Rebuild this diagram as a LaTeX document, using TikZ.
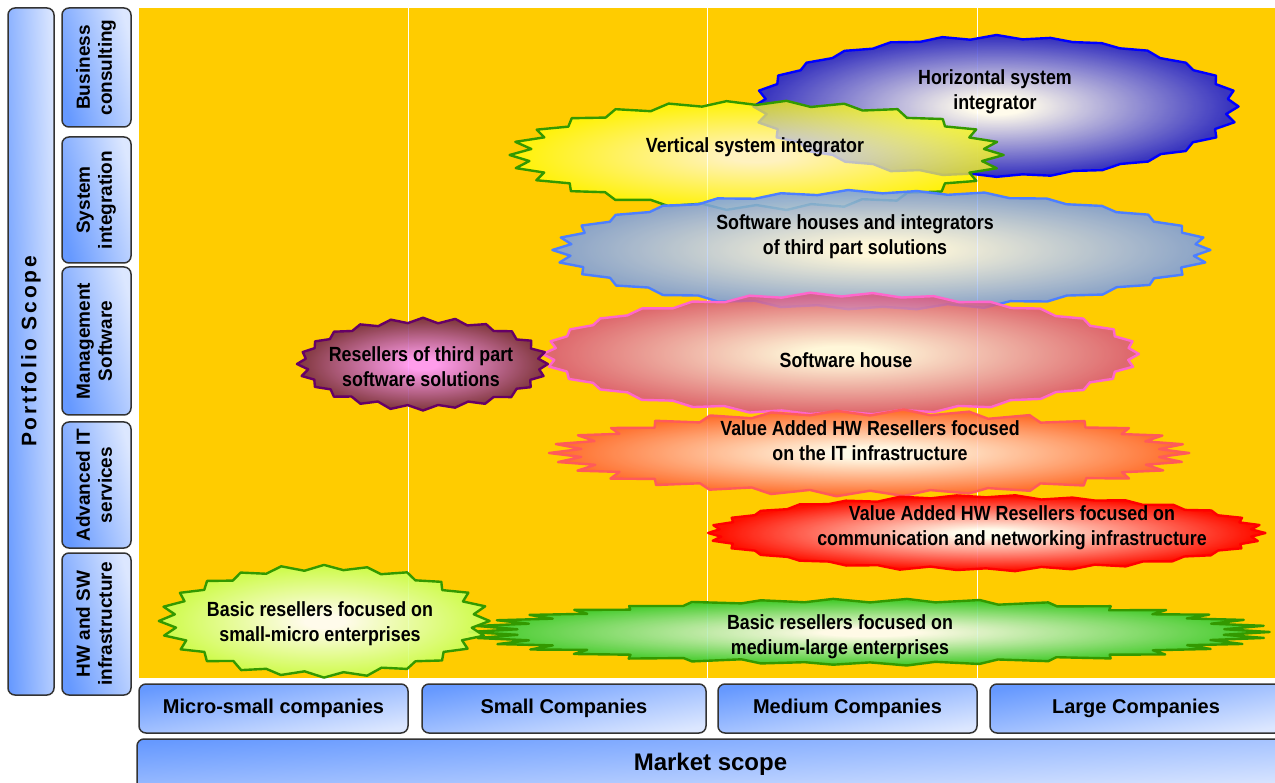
\documentclass[tikz,border=0pt]{standalone}
\usepackage{fontspec}
\setmainfont{Liberation Sans}
\newfontfamily\burstfont[FakeStretch=0.87]{Liberation Sans}
\newfontfamily\scopefont[LetterSpace=13]{Liberation Sans}
\definecolor{bgyellow}{HTML}{FFCC00}
\definecolor{boxblue}{HTML}{6699FF}
\definecolor{boxlight}{HTML}{DCE7FF}
\colorlet{burstcol}{blue}
\colorlet{burstin}{white}
\pgfdeclareradialshading[burstcol,burstin]{burstshade}{\pgfpoint{0bp}{0bp}}{color(0bp)=(burstin); color(3bp)=(burstin); color(24bp)=(burstcol); color(50bp)=(burstcol)}
\tikzset{
  scopebox/.style={draw=black!80, line width=1.5pt, rounded corners=7pt,
    top color=boxblue, bottom color=boxlight, shading angle=10,
    inner sep=0pt, align=center, font=\bfseries\fontsize{20}{24}\selectfont},
  vbox/.style={scopebox, minimum width=69pt, left color=boxblue, right color=boxlight,
    shading angle=105, font=\bfseries\fontsize{19}{22}\selectfont},
  hbox/.style={scopebox, minimum height=49pt},
  burst/.style n args={4}{draw=#2, line width=2.4pt, line join=round,
    /utils/exec={\colorlet{burstcol}{#1}\colorlet{burstin}{#3}},
    shading=burstshade, fill opacity=#4, draw opacity=1},
  bursttext/.style={font=\burstfont\bfseries\fontsize{20.5}{25}\selectfont, align=center, inner sep=0pt},
  gridline/.style={white, line width=1pt}
}
\newcommand{\vlabel}[1]{\rotatebox{90}{\begin{tabular}{@{}c@{}}#1\end{tabular}}}
% #1 style, #2 cx, #3 cy, #4 rx, #5 ry, #6 points, #7 side depth, #8 top depth
\newcommand{\myburst}[8]{%
  \pgfmathtruncatemacro\myburstlast{2*#6-1}%
  \path[#1] plot[samples at={0,...,\myburstlast}, variable=\i]
    ({#2+(#4-#7*mod(\i,2)+1.2*rand)*cos(\i*180/#6)},
     {#3+(#5-#8*mod(\i,2)+0.8*rand)*sin(\i*180/#6)}) -- cycle;}
\definecolor{hsicol}{HTML}{2A2AD0}
\definecolor{vsicol}{HTML}{FFFF10}
\definecolor{shicol}{HTML}{7A9FEB}
\definecolor{shcol}{HTML}{D95A82}
\definecolor{rtpcol}{HTML}{7A2E48}
\definecolor{rtpin}{HTML}{FF99FF}
\definecolor{vaitcol}{HTML}{FF6633}
\definecolor{vanetcol}{HTML}{FF0000}
\definecolor{bmlcol}{HTML}{33CC33}
\definecolor{bsmcol}{HTML}{CCFF55}
\definecolor{greenline}{HTML}{339900}
\definecolor{pinkline}{HTML}{FF66CC}
\definecolor{blueline}{HTML}{4D7FFF}
\definecolor{orangeline}{HTML}{FF5A5A}
\definecolor{purpleline}{HTML}{660066}
\begin{document}
\begin{tikzpicture}[x=1pt,y=-1pt]
\pgfmathsetseed{4}
\useasboundingbox (0,0) rectangle (1275,783);
\fill[white] (0,0) rectangle (1275,783);
% chart area
\fill[bgyellow] (139,8) rectangle (1275,678);
\coordinate (g1t) at (408,8);  \coordinate (g1b) at (408,678);
\coordinate (g2t) at (707,8);  \coordinate (g2b) at (707,678);
\coordinate (g3t) at (977,8);  \coordinate (g3b) at (977,678);
\draw[gridline] (g1t) -- (g1b);
\draw[gridline] (g2t) -- (g2b);
\draw[gridline] (g3t) -- (g3b);

% bursts
\myburst{burst={hsicol}{blue}{white}{0.92}}{996.5}{106.5}{243}{71}{28}{11}{3}
\myburst{burst={vsicol}{greenline}{white}{0.75}}{756.5}{155}{248}{55}{26}{20}{5}
\myburst{burst={shicol}{blueline}{white}{0.85}}{882.5}{250}{329}{60}{30}{15}{4}
\myburst{burst={shcol}{pinkline}{white}{0.85}}{841.5}{354}{298}{61}{30}{10}{4}
\myburst{burst={rtpcol}{purpleline}{rtpin}{0.92}}{423}{364}{125}{46}{24}{8}{5}
\myburst{burst={vaitcol}{orangeline}{white}{0.9}}{870}{453}{320}{43}{30}{30}{5}
\myburst{burst={vanetcol}{red}{white}{0.92}}{986}{533}{279}{38}{30}{12}{3}
\myburst{burst={bmlcol}{greenline}{white}{0.9}}{870}{632}{400}{33}{34}{45}{3}
\myburst{burst={bsmcol}{greenline}{white}{0.92}}{324}{621}{166}{56}{24}{16}{5}

% burst texts
\node[bursttext] (hsit) at (995,92) {Horizontal system\\integrator};
\node[bursttext] (vsit) at (755,147) {Vertical system integrator};
\node[bursttext] (shit) at (855,237) {Software houses and integrators\\of third part solutions};
\node[bursttext] (sht) at (846,360) {Software house};
\node[bursttext] (rtpt) at (421,367) {Resellers of third part\\software solutions};
\node[bursttext] (vaitt) at (870,441) {Value Added HW Resellers focused\\on the IT infrastructure};
\node[bursttext] (vanett) at (1012,528) {Value Added HW Resellers focused on\\communication and networking infrastructure};
\node[bursttext] (bmlt) at (840,637) {Basic resellers focused on\\medium-large enterprises};
\node[bursttext] (bsmt) at (320,624) {Basic resellers focused on\\small-micro enterprises};

% left side
\node[scopebox, minimum width=46pt, minimum height=687pt, left color=boxblue, right color=boxlight, shading angle=92,
  font=\scopefont\bfseries\fontsize{21}{25}\selectfont] (portfolio) at (31,351.5) {\rotatebox{90}{Portfolio Scope}};
\node[vbox, minimum height=119pt] (bc) at (96.5,67.5) {\vlabel{Business\\consulting}};
\node[vbox, minimum height=126pt] (si) at (96.5,200) {\vlabel{System\\integration}};
\node[vbox, minimum height=148pt] (ms) at (96.5,341) {\vlabel{Management\\Software}};
\node[vbox, minimum height=126pt] (ait) at (96.5,485) {\vlabel{Advanced IT\\services}};
\node[vbox, minimum height=142pt] (hw) at (96.5,624) {\vlabel{HW and SW\\infrastructure}};

% bottom
\node[hbox, minimum width=269pt] (micro) at (273.5,708.5) {Micro-small companies};
\node[hbox, minimum width=284pt] (small) at (564,708.5) {Small Companies};
\node[hbox, minimum width=259pt] (medium) at (847.5,708.5) {Medium Companies};
\node[hbox, minimum width=292pt] (large) at (1136,708.5) {Large Companies};
\node[scopebox, minimum width=1147pt, minimum height=51pt, shading angle=3,
  font=\bfseries\fontsize{24}{28}\selectfont] (market) at (710.5,764.5) {Market scope};
\end{tikzpicture}
\end{document}
